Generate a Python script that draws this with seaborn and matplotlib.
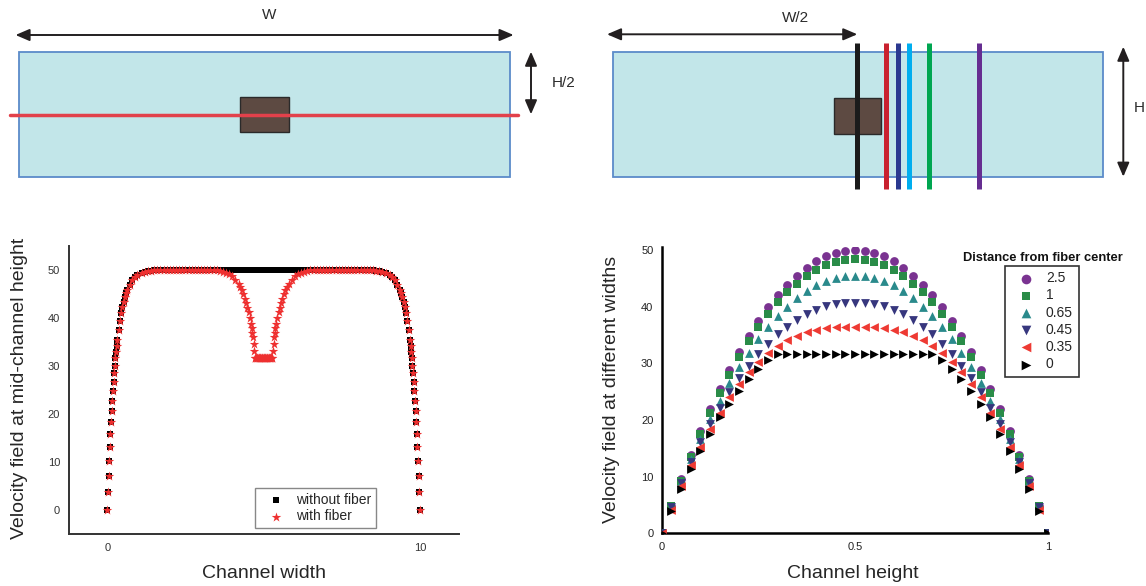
import numpy as np
import pandas as pd
import matplotlib
matplotlib.use("Agg")
import matplotlib.pyplot as plt
import seaborn as sns
from matplotlib.patches import Rectangle
from matplotlib.lines import Line2D
from matplotlib.ticker import MultipleLocator, FixedLocator, FixedFormatter

# ---------------- data: left plot (velocity at mid-channel height across width) ----------------
wall_left_x = [0.00, 0.02, 0.04, 0.06, 0.08, 0.10, 0.12, 0.14, 0.16, 0.18, 0.20, 0.22, 0.24,
               0.26, 0.28, 0.30, 0.32, 0.36, 0.40, 0.44, 0.48, 0.52, 0.56, 0.60, 0.64, 0.72,
               0.80, 0.88, 0.96, 1.10, 1.20, 1.30, 1.40, 1.50, 1.60, 1.70, 1.80, 1.90]
wall_left_v = [0.0, 3.6, 7.0, 10.1, 13.0, 15.7, 18.2, 20.5, 22.7, 24.8, 26.7, 28.4, 30.0,
               31.5, 32.9, 34.2, 35.4, 37.5, 39.3, 40.9, 42.2, 43.3, 44.3, 45.1, 45.8, 46.9,
               47.8, 48.4, 48.8, 49.3, 49.5, 49.7, 49.8, 49.9, 49.9, 50.0, 50.0, 50.0]
plateau_left_x = [2.0, 2.1, 2.2, 2.3, 2.4, 2.5, 2.6, 2.7, 2.8, 2.9, 3.0, 3.1]
plateau_left_v = [50.0] * 12
dip_left_x = [3.2, 3.3, 3.4, 3.5, 3.6, 3.7, 3.8, 3.9, 4.0, 4.1, 4.2, 4.25, 4.30, 4.35, 4.40,
              4.44, 4.48, 4.52, 4.56, 4.60, 4.62, 4.64, 4.66, 4.68, 4.70]
dip_left_nofiber = [50.0] * 25
dip_left_fiber = [50.0, 50.0, 50.0, 49.9, 49.8, 49.6, 49.4, 49.1, 48.6, 47.9, 47.0, 46.4,
                  45.7, 44.9, 43.9, 43.0, 42.1, 41.1, 39.9, 38.6, 37.8, 36.9, 35.9, 34.6, 33.0]
fiber_x = [4.72, 4.74, 4.76, 4.78, 4.80, 4.82, 4.84, 4.86, 4.88, 4.90, 4.92, 4.94, 4.96, 4.98,
           5.00, 5.02, 5.04, 5.06, 5.08, 5.10, 5.12, 5.14, 5.16, 5.18, 5.20, 5.22, 5.24, 5.26, 5.28]
fiber_nofiber = [50.0] * 29
fiber_fiber = [31.7] * 29
dip_right_x = [5.30, 5.32, 5.34, 5.36, 5.38, 5.40, 5.44, 5.48, 5.52, 5.56, 5.60, 5.65, 5.70,
               5.75, 5.80, 5.90, 6.00, 6.10, 6.20, 6.30, 6.40, 6.50, 6.60, 6.70, 6.80]
dip_right_nofiber = [50.0] * 25
dip_right_fiber = [33.0, 34.6, 35.9, 36.9, 37.8, 38.6, 39.9, 41.1, 42.1, 43.0, 43.9, 44.9, 45.7,
                   46.4, 47.0, 47.9, 48.6, 49.1, 49.4, 49.6, 49.8, 49.9, 50.0, 50.0, 50.0]
plateau_right_x = [6.9, 7.0, 7.1, 7.2, 7.3, 7.4, 7.5, 7.6, 7.7, 7.8, 7.9, 8.0]
plateau_right_v = [50.0] * 12
wall_right_x = [8.10, 8.20, 8.30, 8.40, 8.50, 8.60, 8.70, 8.80, 8.90, 9.04, 9.12, 9.20, 9.28,
                9.36, 9.40, 9.44, 9.48, 9.52, 9.56, 9.60, 9.64, 9.68, 9.70, 9.72, 9.74, 9.76,
                9.78, 9.80, 9.82, 9.84, 9.86, 9.88, 9.90, 9.92, 9.94, 9.96, 9.98, 10.00]
wall_right_v = [50.0, 50.0, 50.0, 49.9, 49.9, 49.8, 49.7, 49.5, 49.3, 48.8, 48.4, 47.8, 46.9,
                45.8, 45.1, 44.3, 43.3, 42.2, 40.9, 39.3, 37.5, 35.4, 34.2, 32.9, 31.5, 30.0,
                28.4, 26.7, 24.8, 22.7, 20.5, 18.2, 15.7, 13.0, 10.1, 7.0, 3.6, 0.0]

channel_width = (wall_left_x + plateau_left_x + dip_left_x + fiber_x + dip_right_x
                 + plateau_right_x + wall_right_x)
without_fiber = (wall_left_v + plateau_left_v + dip_left_nofiber + fiber_nofiber
                 + dip_right_nofiber + plateau_right_v + wall_right_v)
with_fiber = (wall_left_v + plateau_left_v + dip_left_fiber + fiber_fiber
              + dip_right_fiber + plateau_right_v + wall_right_v)

# ---------------- data: right plot (velocity across height at several widths) ----------------
channel_height = [0.000, 0.025, 0.050, 0.075, 0.100, 0.125, 0.150, 0.175, 0.200, 0.225, 0.250,
                  0.275, 0.300, 0.325, 0.350, 0.375, 0.400, 0.425, 0.450, 0.475, 0.500, 0.525,
                  0.550, 0.575, 0.600, 0.625, 0.650, 0.675, 0.700, 0.725, 0.750, 0.775, 0.800,
                  0.825, 0.850, 0.875, 0.900, 0.925, 0.950, 0.975, 1.000]
v_d2_5 = [0, 4.9, 9.5, 13.9, 18.0, 21.9, 25.5, 28.9, 32.0, 34.9, 37.5, 39.9, 42.0, 43.9, 45.5,
          46.9, 48.0, 48.9, 49.5, 49.9, 50.0, 49.9, 49.5, 48.9, 48.0, 46.9, 45.5, 43.9, 42.0,
          39.9, 37.5, 34.9, 32.0, 28.9, 25.5, 21.9, 18.0, 13.9, 9.5, 4.9, 0]
v_d1 = [0, 4.8, 9.3, 13.5, 17.5, 21.2, 24.7, 28.0, 31.1, 33.9, 36.5, 38.8, 40.8, 42.6, 44.1,
        45.4, 46.5, 47.3, 47.9, 48.3, 48.4, 48.3, 47.9, 47.3, 46.5, 45.4, 44.1, 42.6, 40.8,
        38.8, 36.5, 33.9, 31.1, 28.0, 24.7, 21.2, 17.5, 13.5, 9.3, 4.8, 0]
v_d0_65 = [0, 4.7, 9.1, 13.1, 16.7, 20.1, 23.4, 26.5, 29.3, 31.9, 34.3, 36.4, 38.3, 40.0, 41.5,
           42.8, 43.8, 44.6, 45.1, 45.4, 45.5, 45.4, 45.1, 44.6, 43.8, 42.8, 41.5, 40.0, 38.3,
           36.4, 34.3, 31.9, 29.3, 26.5, 23.4, 20.1, 16.7, 13.1, 9.1, 4.7, 0]
v_d0_45 = [0, 4.6, 8.8, 12.6, 16.1, 19.3, 22.2, 24.9, 27.4, 29.6, 31.7, 33.5, 35.1, 36.5, 37.7,
           38.7, 39.5, 40.1, 40.5, 40.6, 40.7, 40.6, 40.5, 40.1, 39.5, 38.7, 37.7, 36.5, 35.1,
           33.5, 31.7, 29.6, 27.4, 24.9, 22.2, 19.3, 16.1, 12.6, 8.8, 4.6, 0]
v_d0_35 = [0, 4.2, 8.3, 12.0, 15.3, 18.5, 21.3, 24.0, 26.3, 28.4, 30.2, 31.8, 33.1, 34.1, 34.9,
           35.5, 35.9, 36.2, 36.4, 36.5, 36.5, 36.5, 36.4, 36.2, 35.9, 35.5, 34.9, 34.1, 33.1,
           31.8, 30.2, 28.4, 26.3, 24.0, 21.3, 18.5, 15.3, 12.0, 8.3, 4.2, 0]
v_d0 = [0, 3.9, 7.8, 11.3, 14.6, 17.6, 20.5, 22.9, 25.2, 27.2, 29.0, 30.6, 31.6, 31.7, 31.7,
        31.7, 31.7, 31.7, 31.7, 31.7, 31.7, 31.7, 31.7, 31.7, 31.7, 31.7, 31.7, 31.7, 31.6,
        30.6, 29.0, 27.2, 25.2, 22.9, 20.5, 17.6, 14.6, 11.3, 7.8, 3.9, 0]
distance_labels = ["2.5", "1", "0.65", "0.45", "0.35", "0"]
distance_series = [v_d2_5, v_d1, v_d0_65, v_d0_45, v_d0_35, v_d0]
distance_colors = ["#7A3391", "#2A8C48", "#2A8A8C", "#37377E", "#EE3A33", "#000000"]
distance_markers = ["o", "s", "^", "v", "<", ">"]
distance_sizes = [40, 30, 40, 40, 40, 40]

# ---------------- figure ----------------
sns.set_style("white")
plt.rcParams["font.family"] = ["Liberation Sans", "DejaVu Sans"]

W, H = 1146, 586
fig = plt.figure(figsize=(W / 100, H / 100), dpi=100)

# schematic diagrams (pixel coordinate overlay)
dax = fig.add_axes([0, 0, 1, 1], zorder=0)
dax.set_xlim(0, W)
dax.set_ylim(H, 0)
dax.axis("off")

txt_col = "#2B2B2B"
fill_col = "#C2E6E9"
edge_col = "#5B8BC9"
arrow_kw = dict(arrowstyle="<|-|>,head_length=0.7,head_width=0.3", color="#231F20", lw=1.4,
                shrinkA=0, shrinkB=0, mutation_scale=12)

# left diagram
dax.add_patch(Rectangle((19.2, 51.7), 490.6, 125.0, fc=fill_col, ec=edge_col, lw=1.3, zorder=1))
dax.add_patch(Rectangle((240.4, 96.7), 48.2, 35.6, fc="#5D4A42", ec="#2A2A2A", lw=1.0, zorder=2))
dax.add_line(Line2D([10, 518], [115, 115], color="#E2414B", lw=2.5, zorder=3))
dax.annotate("", xy=(513.6, 35), xytext=(15.5, 35), arrowprops=arrow_kw)
dax.annotate("", xy=(531, 114.3), xytext=(531, 51.7), arrowprops=arrow_kw)
dax.text(269, 15, "W", ha="center", va="center", fontsize=11, color=txt_col)
dax.text(564, 83.3, "H/2", ha="center", va="center", fontsize=11, color=txt_col)

# right diagram
dax.add_patch(Rectangle((612.5, 51.7), 490.2, 125.0, fc=fill_col, ec=edge_col, lw=1.3, zorder=1))
dax.add_patch(Rectangle((833.8, 98.3), 47.6, 35.7, fc="#5D4A42", ec="#2A2A2A", lw=1.0, zorder=2))
cut_x = [857.3, 886.1, 897.7, 908.5, 929.1, 979.3]
cut_c = ["#1B1B1B", "#C9212F", "#2B3990", "#00AEEF", "#00A651", "#662D91"]
for cx, cc in zip(cut_x, cut_c):
    dax.add_line(Line2D([cx, cx], [43.3, 188.7], color=cc, lw=3.6, solid_capstyle="butt", zorder=3))
dax.annotate("", xy=(857.3, 34.3), xytext=(607, 34.3), arrowprops=arrow_kw)
dax.annotate("", xy=(1123.3, 176.7), xytext=(1123.3, 46.7), arrowprops=arrow_kw)
dax.text(795, 18.3, "W/2", ha="center", va="center", fontsize=11, color=txt_col)
dax.text(1145, 108.3, "H", ha="right", va="center", fontsize=11, color=txt_col)

# ---------------- left plot ----------------
axL = fig.add_axes([69 / W, 1 - 534.3 / H, 390.3 / W, 288.3 / H], zorder=2)
sns.scatterplot(x=channel_width, y=without_fiber, marker="s", s=24, color="black",
                linewidth=0, label="without fiber", ax=axL, zorder=3)
sns.scatterplot(x=channel_width, y=with_fiber, marker="*", s=52, color="#EE3030",
                linewidth=0, label="with fiber", ax=axL, zorder=4)
axL.set_xlim(-1.225, 11.26)
axL.set_ylim(-5.13, 54.94)
for s in ["top", "right"]:
    axL.spines[s].set_visible(False)
for s in ["left", "bottom"]:
    axL.spines[s].set_linewidth(1.4)
    axL.spines[s].set_color("#333333")
axL.xaxis.set_major_locator(FixedLocator([0, 2.5, 5, 7.5, 10]))
axL.xaxis.set_major_formatter(FixedFormatter(["0", "", "", "", "10"]))
axL.xaxis.set_minor_locator(FixedLocator([1.25, 3.75, 6.25, 8.75, 11.25]))
axL.yaxis.set_major_locator(FixedLocator([0, 10, 20, 30, 40, 50]))
axL.yaxis.set_minor_locator(FixedLocator([5, 15, 25, 35, 45, 55]))
axL.tick_params(axis="both", which="major", direction="out", length=4, width=1.2,
                color="#333333", labelsize=8, labelcolor="#333333", pad=2.5)
axL.tick_params(axis="y", which="minor", direction="out", length=2.5, width=1.2, color="#333333")
axL.tick_params(axis="x", which="minor", direction="in", length=2.5, width=1.2, color="#333333")
axL.set_xlabel("Channel width", fontsize=14, va="center")
axL.set_ylabel("Velocity field at mid-channel height", fontsize=14, va="center")
axL.xaxis.set_label_coords(0.5, (534.3 - 573) / 288.3)
axL.yaxis.set_label_coords((19 - 69) / 390.3, (534.3 - 388.5) / 288.3)
legL = axL.legend(loc="upper left", bbox_to_anchor=(255 / W, 1 - 487.7 / H),
                  bbox_transform=fig.transFigure, borderaxespad=0, fontsize=10,
                  handlelength=2.3, handletextpad=0.3, labelspacing=0.2,
                  fancybox=False, framealpha=1, edgecolor="#888888", borderpad=0.35)
legL.get_frame().set_linewidth(1.0)

# ---------------- right plot ----------------
axR = fig.add_axes([661.7 / W, 1 - 533.3 / H, 386.6 / W, 286.6 / H], zorder=2)
for lab, vals, col, mk, sz in zip(distance_labels, distance_series, distance_colors,
                                  distance_markers, distance_sizes):
    sns.scatterplot(x=channel_height, y=vals, marker=mk, s=sz, color=col, linewidth=0,
                    label=lab, ax=axR, zorder=3)
axR.set_xlim(0, 1)
axR.set_ylim(0, 50.6)
for s in ["top", "right"]:
    axR.spines[s].set_visible(False)
for s in ["left", "bottom"]:
    axR.spines[s].set_linewidth(1.8)
    axR.spines[s].set_color("black")
axR.xaxis.set_major_locator(FixedLocator([0, 0.25, 0.5, 0.75, 1.0]))
axR.xaxis.set_major_formatter(FixedFormatter(["0", "", "0.5", "", "1"]))
axR.xaxis.set_minor_locator(FixedLocator([0.125, 0.375, 0.625, 0.875]))
axR.yaxis.set_major_locator(FixedLocator([0, 10, 20, 30, 40, 50]))
axR.yaxis.set_minor_locator(FixedLocator([5, 15, 25, 35, 45]))
axR.tick_params(axis="both", which="major", direction="out", length=3.5, width=1.2,
                color="black", labelsize=8, labelcolor="#222222", pad=2.5)
axR.tick_params(axis="y", which="minor", direction="out", length=3, width=1.2, color="black")
axR.tick_params(axis="x", which="minor", direction="in", length=3, width=1.2, color="black")
axR.set_xlabel("Channel height", fontsize=14, va="center")
axR.set_ylabel("Velocity field at different widths", fontsize=14, va="center")
axR.xaxis.set_label_coords((853 - 661.7) / 386.6, (533.3 - 573) / 286.6)
axR.yaxis.set_label_coords((611 - 661.7) / 386.6, (533.3 - 389.5) / 286.6)
legR = axR.legend(loc="upper left", bbox_to_anchor=(1005 / W, 1 - 265.7 / H),
                  bbox_transform=fig.transFigure, borderaxespad=0, fontsize=10,
                  handlelength=2.2, handletextpad=0.35, labelspacing=0.23,
                  fancybox=False, framealpha=1, edgecolor="#333333", borderpad=0.4,
                  markerscale=1.1)
legR.get_frame().set_linewidth(1.2)
fig.text(1043 / W, 1 - 257.7 / H, "Distance from fiber center", ha="center", va="center",
         fontsize=9.3, fontweight="bold", color="#111111")

fig.savefig("out.png", dpi=100)
